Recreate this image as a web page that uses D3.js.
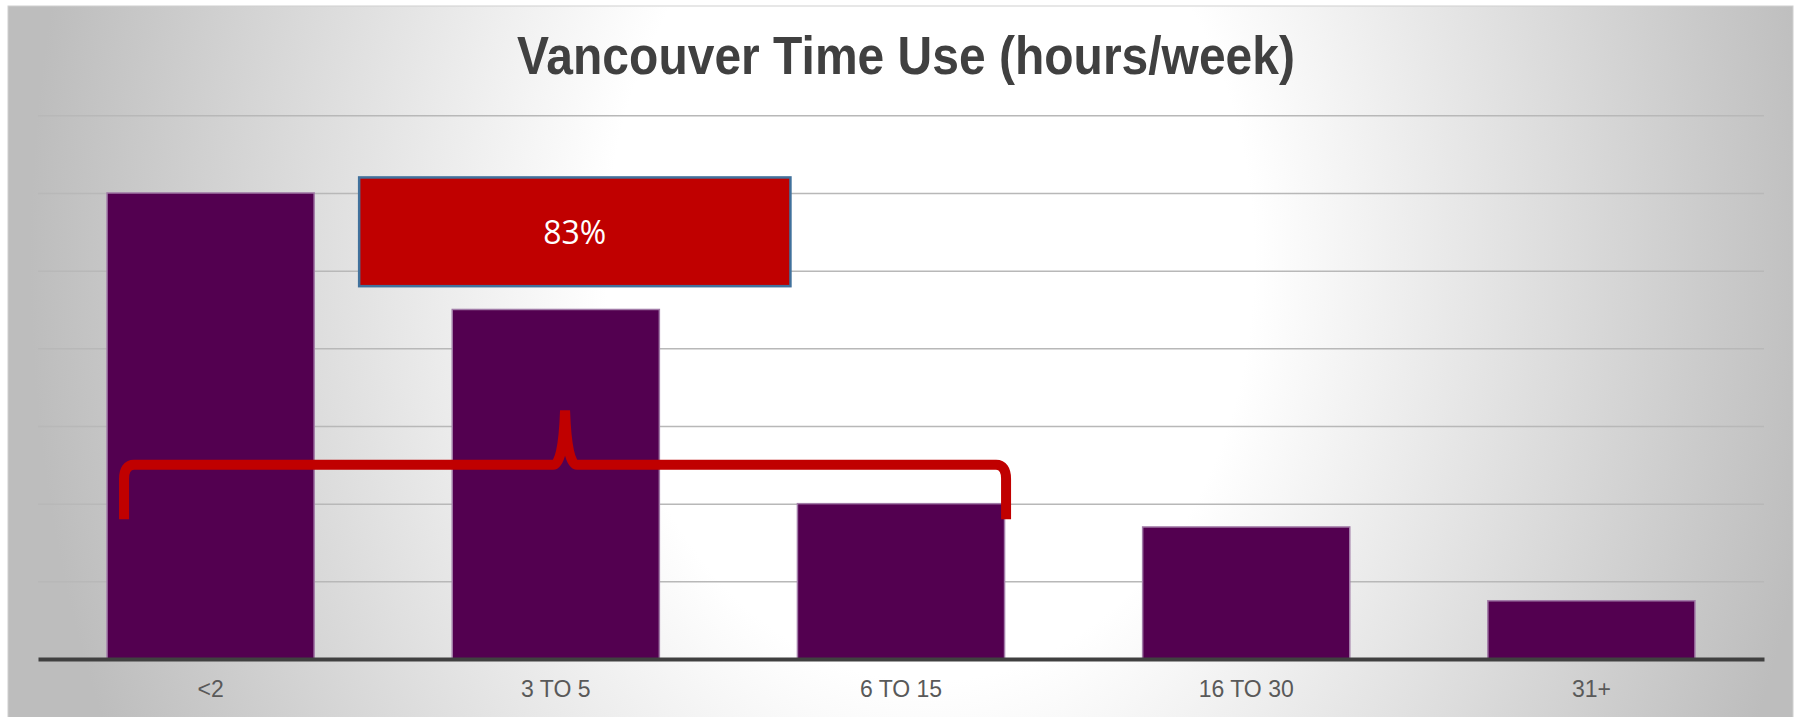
<!DOCTYPE html>
<html>
<head>
<meta charset="utf-8">
<script src="https://cdn.jsdelivr.net/npm/d3@7"></script>
<style>
  body { margin: 0; background: #ffffff; }
</style>
</head>
<body>
<script>
// Datos del gráfico
const categories = ["<2", "3 TO 5", "6 TO 15", "16 TO 30", "31+"];
const values = [6.0, 4.5, 2.0, 1.7, 0.75];
const gridValues = [1, 2, 3, 4, 5, 6, 7];
const chartTitle = "Vancouver Time Use (hours/week)";
const calloutText = "83%";

// Función para crear el gráfico de barras
function createBarChart() {
    const svgWidth = 1799;
    const svgHeight = 717;
    const plot = { left: 38, right: 1764, top: 115.3, bottom: 659 };

    const svg = d3.select("body")
        .append("svg")
        .attr("width", svgWidth)
        .attr("height", svgHeight);

    // Fondo con degradado radial
    const defs = svg.append("defs");
    const grad = defs.append("radialGradient")
        .attr("id", "bg")
        .attr("gradientUnits", "userSpaceOnUse")
        .attr("cx", 930).attr("cy", 260).attr("r", 900)
        .attr("gradientTransform", "translate(930,260) scale(1,1.3) translate(-930,-260)");
    grad.append("stop").attr("offset", "0").attr("stop-color", "#ffffff");
    grad.append("stop").attr("offset", "0.36").attr("stop-color", "#ffffff");
    grad.append("stop").attr("offset", "1").attr("stop-color", "#bdbdbd");

    svg.append("rect")
        .attr("x", 8).attr("y", 6)
        .attr("width", 1785).attr("height", 720)
        .attr("fill", "url(#bg)")
        .attr("stroke", "#d0d0d0")
        .attr("stroke-width", 1);

    // Escaladores
    const xScale = d3.scaleBand()
        .domain(categories)
        .range([plot.left, plot.right])
        .paddingInner(0.4)
        .paddingOuter(0.2);
    const yScale = d3.scaleLinear()
        .domain([0, 7])
        .range([plot.bottom, plot.top]);

    // Líneas de cuadrícula
    svg.append("g")
        .attr("class", "grid")
        .attr("transform", "translate(" + plot.left + ",0)")
        .call(d3.axisLeft(yScale).tickValues(gridValues).tickSize(-(plot.right - plot.left)).tickFormat(""))
        .call(g => g.select(".domain").remove())
        .call(g => g.selectAll("line").attr("stroke", "#b8b8b8").attr("stroke-width", 1.5));

    // Barras
    svg.selectAll(".bar")
        .data(values)
        .enter().append("rect")
        .attr("class", "bar")
        .attr("x", (d, i) => xScale(categories[i]))
        .attr("width", xScale.bandwidth())
        .attr("y", d => yScale(d))
        .attr("height", d => yScale(0) - yScale(d))
        .attr("fill", "#530050")
        .attr("stroke", "#a27ca8")
        .attr("stroke-width", 1.5);

    // Eje X
    const xAxis = svg.append("g")
        .attr("transform", "translate(0," + plot.bottom + ")")
        .call(d3.axisBottom(xScale).tickSize(0).tickPadding(22));
    xAxis.select(".domain")
        .attr("stroke", "#404040")
        .attr("stroke-width", 4);
    xAxis.selectAll("text")
        .attr("font-family", "'Liberation Sans', Arial, sans-serif")
        .attr("font-size", 23)
        .attr("fill", "#595959");

    // Título
    svg.append("text")
        .attr("x", 906)
        .attr("y", 74)
        .attr("text-anchor", "middle")
        .attr("font-family", "'Liberation Sans', Arial, sans-serif")
        .attr("font-weight", "bold")
        .attr("font-size", 53)
        .attr("textLength", 778)
        .attr("lengthAdjust", "spacingAndGlyphs")
        .attr("fill", "#404040")
        .text(chartTitle);

    // Llave roja que agrupa las tres primeras barras
    const bw = xScale.bandwidth();
    const xL = xScale(categories[0]) + 17;
    const xR = xScale(categories[2]) + bw + 1.5;
    const xC = (xL + xR) / 2;
    const yH = yScale(2.5);
    const yEnd = yScale(1.8);
    const yPeak = yScale(3.2);
    const p = d3.path();
    p.moveTo(xL, yEnd);
    p.lineTo(xL, yH + 14);
    p.quadraticCurveTo(xL, yH, xL + 10, yH);
    p.lineTo(xC - 12, yH);
    p.quadraticCurveTo(xC - 2, yH, xC, yPeak);
    p.quadraticCurveTo(xC + 2, yH, xC + 12, yH);
    p.lineTo(xR - 10, yH);
    p.quadraticCurveTo(xR, yH, xR, yH + 14);
    p.lineTo(xR, yEnd);
    svg.append("path")
        .attr("d", p.toString())
        .attr("fill", "none")
        .attr("stroke", "#c00000")
        .attr("stroke-width", 10);

    // Cuadro rojo con el porcentaje
    const boxX0 = xScale(categories[0]) + bw + 45;
    const boxX1 = xScale(categories[2]) - 7;
    const boxY0 = yScale(6.2);
    const boxY1 = yScale(4.8);
    svg.append("rect")
        .attr("x", boxX0)
        .attr("y", boxY0)
        .attr("width", boxX1 - boxX0)
        .attr("height", boxY1 - boxY0)
        .attr("fill", "#c00000")
        .attr("stroke", "#41719c")
        .attr("stroke-width", 2.5);
    svg.append("text")
        .attr("x", (boxX0 + boxX1) / 2)
        .attr("y", 244)
        .attr("text-anchor", "middle")
        .attr("font-family", "'Open Sans', 'Noto Sans', sans-serif")
        .attr("font-size", 32)
        .attr("fill", "#ffffff")
        .text(calloutText);
}

createBarChart();
</script>
</body>
</html>
